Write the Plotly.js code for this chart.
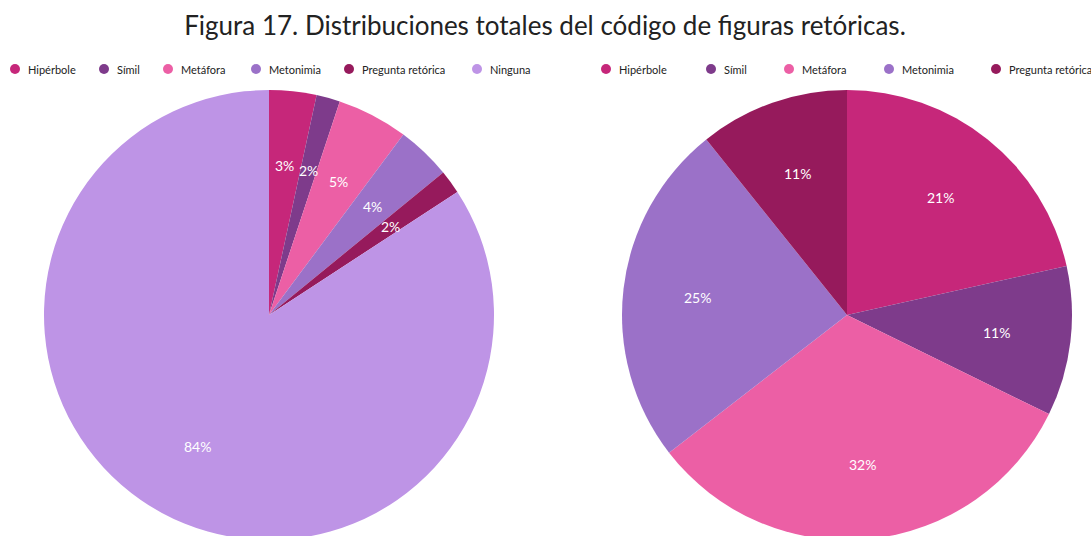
<!DOCTYPE html>
<html>
<head>
<meta charset="utf-8">
<script src="https://cdn.plot.ly/plotly-3.0.1.min.js"></script>
<style>
html,body{margin:0;padding:0;overflow:hidden;background:#fff;width:1091px;height:536px;}
#chart{width:1150px;height:560px;}
</style>
</head>
<body>
<div id="chart"></div>
<script>
const titleText = "Figura 17. Distribuciones totales del código de figuras retóricas.";
const labelsAll = ["Hipérbole", "Símil", "Metáfora", "Metonimia", "Pregunta retórica", "Ninguna"];
const countsAll = [20, 10, 30, 23, 10, 496];
const labelsFig = ["Hipérbole", "Símil", "Metáfora", "Metonimia", "Pregunta retórica"];
const countsFig = [20, 10, 30, 23, 10];
const colors = ["#C6277A", "#7E3B8B", "#EC5FA5", "#9B71C8", "#961A5C", "#BE94E6"];

// layout constants (pixels)
const W = 1150, H = 560;
const font = "Lato, 'Open Sans', sans-serif";
const PIE_R = 225;
const pies = [
  {cx: 269, cy: 315, labels: labelsAll, values: countsAll},
  {cx: 847, cy: 315, labels: labelsFig, values: countsFig}
];
const legendY = 69;
const legendX = [
  [15, 104, 168, 256, 349, 477],
  [606, 711, 789, 889, 996]
];

function pieDomain(cx, cy, r) {
  return {
    x: [(cx - r) / W, (cx + r) / W],
    y: [(H - cy - r) / H, (H - cy + r) / H]
  };
}

// whole-number percentages that add up to 100 (largest remainder)
function roundedPercents(values) {
  const total = values.reduce((a, b) => a + b, 0);
  const raw = values.map(v => v / total * 100);
  const out = raw.map(Math.floor);
  let left = 100 - out.reduce((a, b) => a + b, 0);
  const order = raw.map((r, i) => [r - Math.floor(r), i]).sort((a, b) => b[0] - a[0]);
  for (let j = 0; j < left; j++) out[order[j][1]] += 1;
  return out;
}

const traces = [];
const annotations = [];
const shapes = [];

pies.forEach((p, k) => {
  traces.push({
    type: "pie",
    labels: p.labels,
    values: p.values,
    marker: {colors: colors.slice(0, p.labels.length), line: {width: 0}},
    sort: false,
    direction: "clockwise",
    rotation: 0,
    textinfo: "none",
    hoverinfo: "label+percent",
    showlegend: false,
    domain: pieDomain(p.cx, p.cy, PIE_R)
  });
  // percentage labels placed at 2/3 of the radius on each slice bisector
  const total = p.values.reduce((a, b) => a + b, 0);
  const pct = roundedPercents(p.values);
  let cum = 0;
  p.values.forEach((v, i) => {
    const frac = v / total;
    const mid = (cum + frac / 2) * 2 * Math.PI;
    cum += frac;
    const r = PIE_R * 0.667;
    const px = p.cx + r * Math.sin(mid);
    const py = p.cy - r * Math.cos(mid);
    annotations.push({
      xref: "paper", yref: "paper",
      x: px / W, y: (H - py) / H,
      xanchor: "center", yanchor: "middle",
      text: pct[i] + "%",
      showarrow: false,
      font: {family: font, size: 14, color: "#ffffff"}
    });
  });
  // legend
  p.labels.forEach((lab, i) => {
    const lx = legendX[k][i];
    shapes.push({
      type: "circle", xref: "paper", yref: "paper",
      xsizemode: "pixel", ysizemode: "pixel",
      xanchor: lx / W, yanchor: (H - legendY) / H,
      x0: -5, x1: 5, y0: -5, y1: 5,
      fillcolor: colors[i], line: {width: 0}
    });
    annotations.push({
      xref: "paper", yref: "paper",
      x: (lx + 11) / W, y: (H - legendY) / H,
      xanchor: "left", yanchor: "middle",
      text: lab, showarrow: false,
      font: {family: font, size: 11, color: "#222222"}
    });
  });
});

const layout = {
  width: W,
  height: H,
  margin: {l: 0, r: 0, t: 0, b: 0},
  paper_bgcolor: "#ffffff",
  title: {
    text: titleText,
    font: {family: font, size: 26, color: "#222222"},
    x: 545 / W, xanchor: "center",
    y: (H - 26) / H, yanchor: "middle"
  },
  showlegend: false,
  annotations: annotations,
  shapes: shapes
};

Plotly.newPlot("chart", traces, layout, {displayModeBar: false});
</script>
</body>
</html>
